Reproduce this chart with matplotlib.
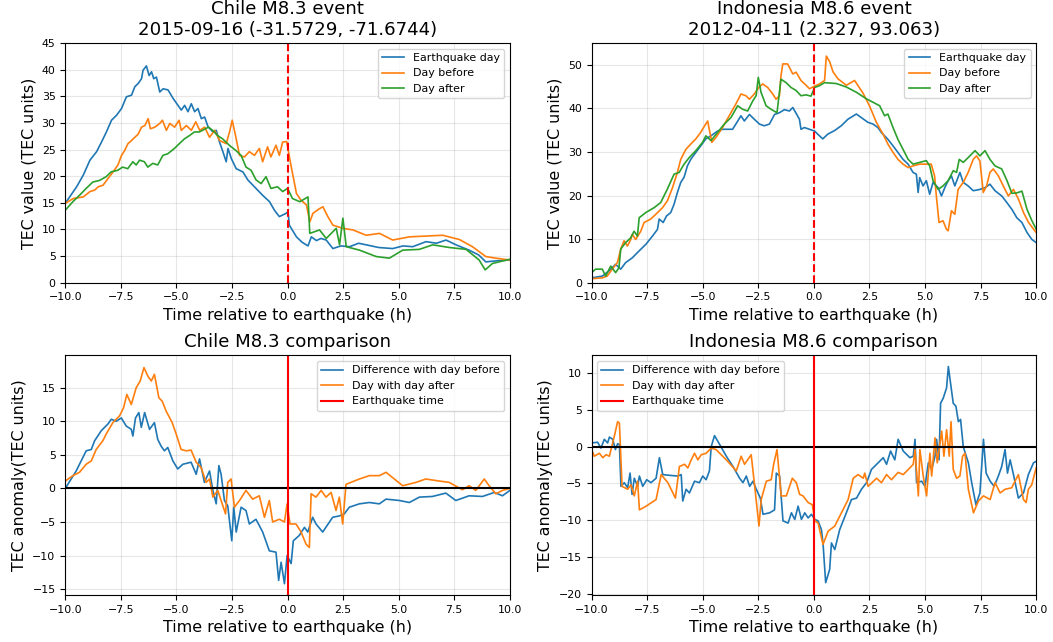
#!/usr/bin/env python3
"""
TEC comparison plots for the Chile M8.3 and Indonesia M8.6 events.
"""

import matplotlib
matplotlib.use('Agg')
import matplotlib.pyplot as plt

plt.rcParams['font.family'] = 'DejaVu Sans'
plt.rcParams['xtick.labelsize'] = 7.9
plt.rcParams['ytick.labelsize'] = 7.9
plt.rcParams['axes.labelsize'] = 11.4
plt.rcParams['axes.titlesize'] = 13.1
plt.rcParams['legend.fontsize'] = 7.9

# ---------------- Chile M8.3 : TEC values ----------------
chile_eq_x = [-10, -9.49, -9.19, -8.89, -8.59, -8.37, -8.15, -7.92, -7.70, -7.47,
              -7.25, -7.02, -6.87, -6.72, -6.57, -6.50, -6.35, -6.23, -6.12, -6.02,
              -5.90, -5.75, -5.60, -5.38, -5.15, -4.93, -4.78, -4.63, -4.48, -4.33,
              -4.18, -4.03, -3.88, -3.73, -3.58, -3.36, -3.21, -3.06, -2.91, -2.76,
              -2.68, -2.53, -2.31, -2.01, -1.79, -1.49, -1.12, -0.81, -0.59, -0.37,
              -0.07, 0.02, 0.08, 0.4, 0.65, 0.92, 1.07, 1.3, 1.5, 1.74,
              2.04, 2.4, 2.79, 3.2, 3.54, 4.1, 4.73, 5.2, 5.63, 6.23,
              6.7, 7.13, 7.58, 8.17, 8.6, 8.92, 9.4, 10]
chile_eq_y = [14.9, 18.0, 20.2, 23.0, 24.6, 26.4, 28.3, 30.5, 31.4, 32.7,
              34.9, 35.2, 36.8, 37.4, 38.3, 39.9, 40.7, 38.9, 39.6, 38.3,
              38.6, 35.8, 36.4, 36.2, 34.6, 33.3, 32.4, 33.3, 32.1, 33.6,
              32.1, 32.7, 30.8, 31.1, 29.3, 28.3, 28.6, 26.4, 24.6, 22.7,
              25.2, 23.3, 21.4, 20.8, 19.3, 18.0, 16.4, 15.2, 13.6, 12.4,
              13.0, 13.3, 10.8, 8.6, 7.6, 6.9, 8.6, 7.9, 8.3, 8.0,
              6.4, 6.9, 6.75, 7.4, 7.1, 6.6, 6.4, 6.9, 6.75, 7.7,
              7.4, 8.0, 7.1, 6.1, 5.2, 3.9, 4.1, 4.25]

chile_before_x = [-10, -9.64, -9.19, -8.89, -8.67, -8.52, -8.30, -8.07, -7.85, -7.63,
                  -7.47, -7.33, -7.18, -7.02, -6.87, -6.72, -6.57, -6.42, -6.27, -6.17,
                  -5.97, -5.75, -5.63, -5.45, -5.30, -5.08, -4.88, -4.78, -4.55, -4.33,
                  -4.13, -3.95, -3.73, -3.51, -3.28, -3.06, -2.76, -2.61, -2.49, -2.34,
                  -2.16, -1.94, -1.72, -1.49, -1.27, -1.12, -0.90, -0.75, -0.52, -0.37,
                  -0.22, -0.04, 0.15, 0.40, 0.6, 0.85, 1.0, 1.14, 1.4, 1.59,
                  1.8, 2.04, 2.49, 2.94, 3.54, 4.14, 4.73, 5.48, 6.23, 6.98,
                  7.73, 8.32, 8.92, 9.37, 10]
chile_before_y = [14.9, 15.8, 16.1, 17.1, 17.4, 18.0, 18.3, 19.6, 20.8, 22.1,
                  23.9, 24.8, 26.1, 26.7, 27.3, 27.9, 29.2, 29.5, 30.8, 28.9,
                  29.2, 29.9, 30.5, 28.6, 29.9, 29.2, 30.5, 28.6, 29.5, 28.6,
                  30.2, 28.6, 29.2, 27.3, 28.6, 26.7, 26.1, 28.3, 30.5, 27.6,
                  23.9, 23.6, 24.6, 23.9, 25.2, 22.7, 25.5, 23.6, 25.8, 23.9,
                  26.4, 26.5, 22.1, 16.75, 15.5, 14.6, 11.4, 13.0, 13.8, 14.25,
                  12.5, 10.8, 10.2, 9.9, 8.9, 9.25, 8.0, 8.6, 8.75, 8.9,
                  8.1, 6.75, 4.9, 4.6, 4.25]

chile_after_x = [-10, -9.66, -9.36, -9.06, -8.76, -8.46, -8.16, -7.94, -7.64, -7.42,
                 -7.19, -6.96, -6.81, -6.66, -6.44, -6.29, -6.06, -5.84, -5.61, -5.39,
                 -5.09, -4.87, -4.64, -4.42, -4.19, -3.97, -3.74, -3.56, -3.37, -3.14,
                 -2.92, -2.62, -2.32, -2.09, -1.87, -1.64, -1.42, -1.19, -0.97, -0.75,
                 -0.45, -0.22, 0.0, 0.22, 0.55, 0.92, 1.0, 1.44, 1.74, 2.19,
                 2.34, 2.49, 2.64, 3.24, 3.99, 4.58, 5.18, 5.93, 6.53, 7.28,
                 8.03, 8.62, 8.89, 9.22, 10]
chile_after_y = [13.6, 15.2, 16.4, 17.7, 18.9, 19.2, 19.9, 20.8, 21.1, 21.7,
                 21.4, 22.7, 22.1, 23.0, 22.7, 21.7, 22.4, 22.1, 23.9, 24.2,
                 25.2, 26.1, 27.0, 27.6, 28.3, 28.3, 28.8, 29.2, 28.6, 27.6,
                 27.0, 25.8, 24.8, 23.9, 21.7, 21.1, 19.3, 18.6, 19.9, 17.7,
                 18.0, 17.1, 17.7, 15.8, 15.2, 16.1, 9.25, 9.9, 8.3, 10.2,
                 7.1, 12.1, 6.75, 6.1, 4.9, 4.6, 6.1, 6.25, 7.1, 6.6,
                 6.25, 4.25, 2.4, 3.6, 4.4]

# ---------------- Chile M8.3 : anomalies ----------------
chile_diff_before_x = [-10, -9.51, -9.06, -8.83, -8.68, -8.38, -8.08, -7.93, -7.71, -7.48, -7.26, -7.03,
                       -6.96, -6.84, -6.69, -6.58, -6.43, -6.21, -5.99, -5.84, -5.69, -5.54, -5.39,
                       -5.16, -4.94, -4.71, -4.34, -4.11, -3.96, -3.74, -3.51, -3.36, -3.21, -3.09,
                       -2.99, -2.84, -2.69, -2.51, -2.42, -2.31, -2.09, -1.87, -1.72, -1.42, -1.12,
                       -0.82, -0.52, -0.40, -0.29, -0.14, -0.02, 0.16, 0.26, 0.53, 0.76, 0.91, 1.13,
                       1.28, 1.58, 2.03, 2.33, 2.55, 2.78, 3.23, 3.68, 4.13, 4.43, 5.03, 5.48, 5.93,
                       6.52, 7.12, 7.57, 8.17, 8.77, 9.30, 9.67, 10]
chile_diff_before_y = [0, 2.6, 5.6, 5.8, 7.1, 8.6, 9.6, 10.3, 10.0, 10.5, 9.3, 8.8,
                       7.8, 10.5, 11.3, 9.1, 11.3, 8.8, 9.8, 7.3, 6.3, 5.6, 6.1,
                       4.1, 2.9, 3.6, 3.9, 2.1, 4.4, 0.9, 2.6, -0.3, -2.3, 3.4,
                       2.1, -1.8, -2.6, -7.8, -2.8, -6.5, -2.8, -3.3, -5.3, -4.6, -6.5,
                       -9.3, -9.5, -13.7, -11.0, -14.2, -10.0, -11.2, -7.8, -7.0, -5.8, -6.5, -4.3,
                       -5.3, -6.5, -4.3, -4.1, -3.8, -2.8, -2.3, -2.1, -2.3, -1.6, -1.8, -2.1, -1.3,
                       -1.2, -0.7, -1.8, -1.1, -1.2, -0.6, -1.1, -0.3]

chile_diff_after_x = [-10, -9.66, -9.36, -9.06, -8.83, -8.61, -8.31, -8.16, -7.86, -7.56, -7.38, -7.23,
                      -7.03, -6.81, -6.63, -6.46, -6.28, -6.13, -5.99, -5.79, -5.64, -5.46, -5.19,
                      -5.01, -4.79, -4.56, -4.34, -4.11, -3.89, -3.66, -3.51, -3.36, -3.14, -2.99,
                      -2.79, -2.69, -2.54, -2.39, -2.16, -1.87, -1.57, -1.27, -1.04, -0.82, -0.67,
                      -0.37, -0.14, -0.02, 0.11, 0.38, 0.61, 0.83, 0.98, 1.06, 1.28, 1.51, 1.73,
                      1.96, 2.18, 2.33, 2.48, 2.63, 2.85, 3.23, 3.68, 4.13, 4.43, 4.73, 5.18, 5.78,
                      6.22, 6.82, 7.27, 7.87, 8.17, 8.47, 8.85, 9.07, 9.37, 9.67, 10]
chile_diff_after_y = [1.1, 1.9, 2.4, 3.6, 4.1, 5.8, 7.1, 8.1, 9.8, 10.8, 12.0, 14.0,
                      12.5, 15.0, 16.0, 18.0, 16.7, 16.0, 17.0, 13.5, 13.0, 11.5, 9.8,
                      8.1, 5.8, 5.6, 5.7, 3.9, 3.1, 0.9, 1.4, -1.3, -0.3, -1.8,
                      -3.8, 0.9, 1.4, -2.8, -1.8, -0.3, -1.6, -1.1, -4.3, -1.8, -5.0,
                      -4.6, -5.0, -2.3, -5.3, -5.3, -6.5, -8.3, -8.8, -0.8, -1.3, -0.3, -1.3,
                      -0.6, -3.3, -1.3, -5.3, 0.6, 0.9, 1.4, 1.9, 1.9, 2.4, 1.6, 0.4, 0.9,
                      1.4, 1.1, 0.9, -0.2, 0.4, -0.3, 1.4, 0.4, -0.8, -0.3, 0]

# ---------------- Indonesia M8.6 : TEC values ----------------
indo_eq_x = [-10, -9.52, -9.22, -8.92, -8.69, -8.47, -8.17, -7.86, -7.56, -7.26,
             -7.04, -6.96, -6.78, -6.63, -6.44, -6.29, -6.14, -5.99, -5.84, -5.69,
             -5.54, -5.31, -5.09, -4.86, -4.63, -4.33, -4.11, -3.88, -3.66, -3.51,
             -3.28, -3.13, -2.90, -2.68, -2.45, -2.23, -2.00, -1.77, -1.55, -1.33,
             -1.10, -0.95, -0.77, -0.65, -0.58, -0.43, -0.20, 0.03, 0.25, 0.40,
             0.63, 0.93, 1.23, 1.53, 1.91, 2.13, 2.43, 2.66, 2.88, 3.03,
             3.18, 3.33, 3.56, 3.78, 4.01, 4.24, 4.46, 4.61, 4.69, 4.76,
             4.91, 5.06, 5.21, 5.36, 5.59, 5.74, 5.89, 6.04, 6.19, 6.34,
             6.57, 6.72, 6.94, 7.17, 7.47, 7.70, 7.92, 8.15, 8.45, 8.68,
             8.91, 9.13, 9.36, 9.59, 9.81, 10]
indo_eq_y = [1.1, 1.5, 2.7, 4.2, 3.1, 4.6, 5.7, 7.3, 8.8, 10.7,
             12.2, 14.6, 13.8, 15.3, 16.1, 18.0, 20.7, 23.0, 24.2, 26.8,
             28.3, 29.9, 31.4, 33.0, 33.7, 34.8, 35.2, 35.2, 35.2, 36.4,
             38.3, 37.1, 38.6, 37.5, 36.4, 36.0, 36.4, 38.6, 39.0, 39.7,
             39.4, 40.2, 38.6, 37.5, 35.2, 35.6, 35.2, 34.8, 33.7, 33.0,
             34.1, 34.9, 36.0, 37.5, 38.7, 37.9, 36.8, 36.4, 35.6, 34.5,
             33.7, 32.9, 31.4, 29.9, 28.3, 27.2, 25.3, 24.9, 20.7, 24.1,
             22.2, 23.4, 20.3, 23.0, 21.8, 19.9, 21.8, 23.4, 24.5, 22.2,
             25.3, 23.0, 22.2, 21.1, 21.4, 21.8, 22.6, 21.1, 19.9, 18.4,
             16.8, 14.9, 13.8, 11.5, 9.9, 9.2]

indo_before_x = [-10, -9.52, -9.30, -9.07, -8.84, -8.69, -8.54, -8.39, -8.24, -8.17,
                 -8.02, -7.79, -7.64, -7.34, -7.11, -6.81, -6.59, -6.36, -6.14, -5.99,
                 -5.76, -5.54, -5.31, -5.09, -4.94, -4.78, -4.59, -4.41, -4.11, -3.81,
                 -3.51, -3.28, -3.06, -2.90, -2.68, -2.48, -2.30, -2.08, -1.85, -1.70,
                 -1.55, -1.48, -1.40, -1.18, -0.95, -0.80, -0.58, -0.35, -0.20, 0.03,
                 0.25, 0.48, 0.56, 0.71, 0.86, 1.08, 1.46, 1.83, 2.21, 2.51,
                 2.81, 3.11, 3.33, 3.56, 3.78, 4.01, 4.24, 4.46, 4.76, 5.06,
                 5.28, 5.43, 5.51, 5.63, 5.81, 5.96, 6.04, 6.19, 6.34, 6.49,
                 6.72, 6.94, 7.17, 7.32, 7.47, 7.62, 7.77, 7.92, 8.07, 8.30,
                 8.52, 8.75, 8.98, 9.21, 9.43, 9.66, 10]
indo_before_y = [0.9, 1.1, 1.5, 3.1, 4.6, 7.7, 9.6, 8.4, 9.9, 11.1,
                 9.9, 11.8, 13.8, 14.6, 15.7, 17.2, 18.8, 21.8, 25.3, 28.3,
                 30.6, 31.8, 33.0, 34.5, 35.8, 37.1, 32.2, 33.3, 35.6, 38.3,
                 41.0, 43.3, 42.9, 42.1, 43.3, 44.8, 45.6, 44.8, 43.3, 42.1,
                 42.9, 47.5, 50.2, 50.2, 47.9, 48.3, 46.4, 45.3, 44.5, 45.1,
                 45.6, 46.4, 52.0, 50.7, 48.4, 46.8, 45.3, 46.4, 43.5, 40.5,
                 36.8, 34.1, 31.8, 29.9, 28.3, 27.2, 26.4, 26.8, 27.2, 27.2,
                 27.2, 24.5, 19.9, 13.8, 14.2, 12.3, 11.9, 16.5, 15.7, 21.4,
                 23.0, 25.3, 28.3, 29.1, 27.9, 20.7, 22.2, 25.3, 26.1, 24.5,
                 22.2, 19.9, 21.4, 19.1, 16.1, 13.8, 11.5]

indo_after_x = [-10, -9.82, -9.52, -9.37, -9.14, -8.92, -8.77, -8.69, -8.47, -8.24,
                -8.09, -7.94, -7.86, -7.56, -7.19, -6.89, -6.59, -6.29, -6.06, -5.84,
                -5.61, -5.31, -5.01, -4.86, -4.63, -4.33, -4.03, -3.73, -3.43, -3.21,
                -2.98, -2.75, -2.60, -2.50, -2.38, -2.15, -1.93, -1.66, -1.48, -1.25,
                -1.03, -0.80, -0.58, -0.35, -0.13, 0.03, 0.25, 0.48, 1.01, 1.46,
                1.91, 2.36, 2.66, 2.96, 3.18, 3.33, 3.56, 3.78, 4.01, 4.24,
                4.46, 4.76, 5.06, 5.21, 5.36, 5.59, 5.81, 6.04, 6.27, 6.42,
                6.54, 6.72, 7.02, 7.25, 7.47, 7.70, 7.92, 8.15, 8.45, 8.68,
                8.91, 9.13, 9.36, 9.59, 9.81, 10]
indo_after_y = [2.3, 3.1, 3.1, 1.5, 3.8, 2.3, 3.4, 7.7, 9.2, 10.3,
                11.8, 10.7, 14.9, 16.1, 17.2, 18.4, 21.5, 24.9, 25.3, 27.2,
                28.7, 30.3, 32.2, 33.7, 32.6, 34.5, 36.4, 37.9, 40.6, 39.8,
                39.4, 41.7, 42.9, 47.1, 43.7, 40.6, 39.8, 39.0, 46.7, 45.9,
                44.8, 44.1, 42.9, 43.1, 42.8, 44.8, 45.2, 45.9, 45.7, 44.9,
                43.7, 42.2, 41.4, 40.6, 38.3, 38.7, 35.6, 32.9, 30.6, 28.3,
                27.2, 27.6, 28.0, 26.8, 23.4, 21.4, 22.2, 23.4, 25.7, 25.3,
                28.3, 27.6, 29.1, 30.3, 29.1, 30.3, 28.3, 26.8, 26.1, 23.5,
                20.5, 20.6, 21.0, 16.8, 14.2, 12.3]

# ---------------- Indonesia M8.6 : anomalies ----------------
indo_diff_before_x = [-10, -9.73, -9.58, -9.43, -9.28, -9.20, -9.05, -8.93, -8.83, -8.75, -8.68, -8.53,
                      -8.38, -8.27, -8.18, -8.08, -7.93, -7.85, -7.70, -7.52, -7.33, -7.10, -6.95,
                      -6.80, -6.50, -6.12, -5.97, -5.90, -5.75, -5.60, -5.37, -5.15, -5.00, -4.85,
                      -4.70, -4.62, -4.47, -4.24, -3.94, -3.64, -3.34, -3.19, -3.04, -2.89, -2.74,
                      -2.59, -2.41, -2.29, -1.99, -1.77, -1.69, -1.54, -1.39, -1.16, -1.01, -0.86,
                      -0.71, -0.56, -0.41, -0.26, -0.11, 0.04, 0.19, 0.34, 0.41, 0.53, 0.71, 0.79,
                      0.94, 1.16, 1.46, 1.69, 1.92, 2.14, 2.37, 2.59, 2.89, 3.12, 3.27, 3.45, 3.64,
                      3.79, 4.02, 4.32, 4.47, 4.55, 4.62, 4.85, 5.00, 5.15, 5.30, 5.45, 5.52, 5.63,
                      5.70, 5.82, 5.97, 6.05, 6.15, 6.27, 6.39, 6.50, 6.60, 6.72, 6.95, 7.10, 7.29,
                      7.47, 7.63, 7.75, 7.93, 8.11, 8.30, 8.45, 8.60, 8.71, 8.83, 8.98, 9.20, 9.43,
                      9.65, 9.88, 10]
indo_diff_before_y = [0.5, 0.6, -0.2, 1.0, 0.5, 1.3, 1.0, -0.4, 0.4, 0.3, -5.4, -4.9,
                      -5.6, -3.6, -6.5, -4.3, -5.4, -4.0, -5.4, -4.5, -4.9, -4.3, -1.5,
                      -3.8, -3.9, -4.0, -3.8, -7.4, -5.8, -6.3, -4.7, -4.9, -4.0, -4.5,
                      -3.3, 0.0, 1.5, 0.3, -1.3, -2.7, -4.3, -4.9, -4.0, -5.4, -4.7,
                      -5.8, -7.0, -9.2, -9.0, -8.6, -3.6, -4.0, -10.1, -10.4, -9.0, -9.9,
                      -8.1, -9.9, -9.0, -9.7, -9.2, -9.9, -10.1, -11.3, -13.1, -18.5, -16.7, -13.1,
                      -14.0, -11.3, -9.0, -7.2, -7.0, -5.8, -4.9, -3.1, -2.2, -1.5, -2.4, -0.6, -1.8,
                      1.0, -0.6, -1.5, -1.3, 1.0, -4.9, -4.7, -5.4, -2.2, -3.1, -1.3, 1.0, -1.8,
                      5.9, 6.6, 8.0, 10.9, 8.6, 5.9, 5.5, 3.4, 3.7, 0.0, -2.2, -4.9, -7.9,
                      -6.3, 1.0, -3.6, -4.7, -5.4, -4.0, -2.7, -0.4, -3.6, -1.8, -3.8, -7.0, -6.3,
                      -3.8, -2.2, -2.0]

indo_diff_after_x = [-10, -9.88, -9.65, -9.50, -9.35, -9.20, -8.98, -8.83, -8.75, -8.63, -8.38, -8.23,
                     -8.08, -7.93, -7.85, -7.55, -7.10, -6.87, -6.57, -6.23, -6.05, -5.82, -5.67,
                     -5.52, -5.37, -5.22, -5.07, -4.85, -4.62, -4.40, -3.94, -3.49, -3.27, -3.12,
                     -2.82, -2.67, -2.47, -2.37, -2.14, -1.92, -1.81, -1.66, -1.47, -1.24, -0.97,
                     -0.79, -0.64, -0.49, -0.26, -0.07, 0.04, 0.19, 0.41, 0.64, 0.94, 1.24, 1.54,
                     1.77, 1.99, 2.22, 2.29, 2.44, 2.82, 3.04, 3.27, 3.49, 3.79, 4.02, 4.25, 4.47,
                     4.55, 4.70, 4.77, 4.92, 5.07, 5.22, 5.30, 5.45, 5.55, 5.75, 5.85, 5.97, 6.09,
                     6.17, 6.27, 6.42, 6.57, 6.69, 6.80, 6.95, 7.18, 7.40, 7.63, 7.93, 8.15, 8.38,
                     8.60, 8.90, 9.20, 9.43, 9.55, 9.65, 9.80, 10]
indo_diff_after_y = [-0.4, -1.3, -0.9, -1.5, -1.1, -1.3, 1.4, 3.4, 3.2, -5.4, -5.8, -5.2,
                     -6.7, -4.7, -8.6, -8.1, -7.2, -3.8, -4.9, -7.0, -2.7, -2.4, -2.9,
                     -1.8, -0.9, -1.8, -1.1, -0.9, -0.2, -0.4, -1.8, -3.3, -1.3, -2.4,
                     -1.1, -5.2, -10.8, -7.2, -4.7, -4.5, -2.4, -0.4, -6.7, -6.7, -4.3,
                     -4.9, -6.5, -6.7, -7.6, -7.9, -10.1, -10.4, -13.3, -11.5, -10.8, -9.0, -7.2,
                     -4.3, -3.8, -4.3, -3.6, -5.4, -4.3, -4.9, -3.8, -4.5, -3.5, -3.8, -3.1, -2.4,
                     -0.4, -6.7, -0.4, -4.0, -6.7, -0.9, -4.0, 1.2, -2.2, 2.1, -1.3, 2.3, -1.3,
                     3.4, -3.1, -4.3, -4.0, -1.3, -0.9, -5.8, -9.0, -7.4, -6.7, -7.2, -4.9, -6.3,
                     -5.8, -5.6, -3.8, -7.2, -7.6, -5.8, -5.2, -2.9]


def plot_values(ax, title, eq, before, after, ylim):
    ax.plot(*eq, color='#1f77b4', linewidth=1.2, label='Earthquake day')
    ax.plot(*before, color='#ff7f0e', linewidth=1.2, label='Day before')
    ax.plot(*after, color='#2ca02c', linewidth=1.2, label='Day after')
    ax.axvline(0, color='red', linestyle='--', linewidth=1.5)
    ax.set_title(title)
    ax.set_xlabel('Time relative to earthquake (h)')
    ax.set_ylabel('TEC value (TEC units)')
    ax.set_xlim(-10, 10)
    ax.set_ylim(*ylim)
    ax.grid(True, alpha=0.3)
    ax.legend(loc='upper right')


def plot_anomaly(ax, title, diff_before, diff_after, ylim, legend_loc):
    ax.plot(*diff_before, color='#1f77b4', linewidth=1.2, label='Difference with day before')
    ax.plot(*diff_after, color='#ff7f0e', linewidth=1.2, label='Day with day after')
    ax.axhline(0, color='black', linewidth=1.5)
    ax.axvline(0, color='red', linewidth=1.5, label='Earthquake time')
    ax.set_title(title)
    ax.set_xlabel('Time relative to earthquake (h)')
    ax.set_ylabel('TEC anomaly(TEC units)')
    ax.set_xlim(-10, 10)
    ax.set_ylim(*ylim)
    ax.grid(True, alpha=0.3)
    ax.legend(loc=legend_loc)


fig, axes = plt.subplots(2, 2, figsize=(10.53, 6.42), dpi=100)
fig.subplots_adjust(left=0.062, right=0.984, bottom=0.073, top=0.933, wspace=0.184, hspace=0.304)

plot_values(axes[0, 0], 'Chile M8.3 event\n2015-09-16 (-31.5729, -71.6744)',
            (chile_eq_x, chile_eq_y), (chile_before_x, chile_before_y),
            (chile_after_x, chile_after_y), (0, 45))
plot_values(axes[0, 1], 'Indonesia M8.6 event\n2012-04-11 (2.327, 93.063)',
            (indo_eq_x, indo_eq_y), (indo_before_x, indo_before_y),
            (indo_after_x, indo_after_y), (0, 55))
plot_anomaly(axes[1, 0], 'Chile M8.3 comparison',
             (chile_diff_before_x, chile_diff_before_y),
             (chile_diff_after_x, chile_diff_after_y), (-15.9, 19.8), 'upper right')
plot_anomaly(axes[1, 1], 'Indonesia M8.6 comparison',
             (indo_diff_before_x, indo_diff_before_y),
             (indo_diff_after_x, indo_diff_after_y), (-20.2, 12.4), 'upper left')

fig.savefig('out.png', dpi=100)
plt.close(fig)
